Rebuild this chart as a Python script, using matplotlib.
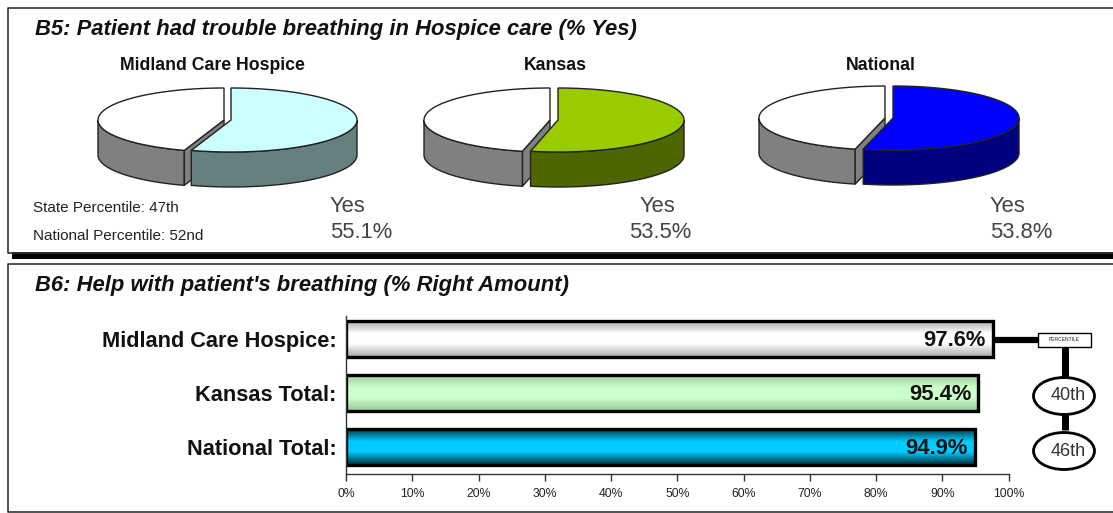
import numpy as np
import matplotlib
matplotlib.use("Agg")
import matplotlib.pyplot as plt
from matplotlib.patches import Polygon, Rectangle, Ellipse
from matplotlib.colors import LinearSegmentedColormap

plt.rcParams['font.family'] = ['Liberation Sans', 'DejaVu Sans']

# ---- data
pie_names = ["Midland Care Hospice", "Kansas", "National"]
pie_yes = [55.1, 53.5, 53.8]
pie_labels = ["55.1%", "53.5%", "53.8%"]
pie_top = ["#CCFFFF", "#99CC00", "#0000FF"]
pie_side = ["#668080", "#4D6600", "#000080"]
bar_names = ["Midland Care Hospice:", "Kansas Total:", "National Total:"]
bar_values = [97.6, 95.4, 94.9]
bar_edge_cols = ["#A8A8A8", "#98C898", "#00303F"]
bar_mid_cols = ["#FFFFFF", "#CCFFCC", "#00CCFF"]
percentiles = ["40th", "46th"]
x_ticks = list(range(0, 101, 10))

W, H = 1113, 513
fig = plt.figure(figsize=(W / 100, H / 100), dpi=100, facecolor="white")

# overlay in pixel coordinates for layout furniture
ov = fig.add_axes([0, 0, 1, 1], zorder=1)
ov.set_xlim(0, W); ov.set_ylim(H, 0); ov.axis("off")

# panel frames
ov.plot([W, 8, 8, W], [8, 8, 253, 253], color="#333333", lw=1.2)
ov.add_patch(Rectangle((12, 252), W - 12, 6.5, fc="black", ec="none"))
ov.plot([W, 8, 8, W], [264, 264, 511.5, 511.5], color="#333333", lw=1.2)

ov.text(35, 30, "B5: Patient had trouble breathing in Hospice care (% Yes)",
        fontsize=15.8, fontweight="bold", style="italic", va="center", color="#111111")
ov.text(35, 286, "B6: Help with patient's breathing (% Right Amount)",
        fontsize=15.8, fontweight="bold", style="italic", va="center", color="#111111")


def arc(cx, cy, rx, ry, a0, a1, n=120):
    """Points on an ellipse; angle measured clockwise from 12 o'clock, degrees."""
    t = np.radians(np.linspace(a0, a1, n))
    return np.column_stack([cx + rx * np.sin(t), cy - ry * np.cos(t)])


# pies: (yes centre x, no centre x, top centre y, name x, yes x, pct x)
pie_layout = [(231, 224, 120, 212, 330, 330),
              (558, 550, 120, 555, 640, 629),
              (893, 885, 118, 881, 990, 990)]
RX, RY, DEPTH = 126, 32, 35

for i, (cxy, cxn, cy, nx, yx, px) in enumerate(pie_layout):
    end = 360 * pie_yes[i] / 100
    lw = 1.0
    # No slice: side wall
    a = arc(cxn, cy, RX, RY, end, 270)
    down = a[::-1] + [0, DEPTH]
    ov.add_patch(Polygon(np.vstack([a, down]), fc="#808080", ec="#222222", lw=lw, zorder=2))
    # cut face of No slice
    tip = arc(cxn, cy, RX, RY, end, end, 1)[0]
    ov.add_patch(Polygon([(cxn, cy), tip, tip + [0, DEPTH], (cxn, cy + DEPTH)],
                         fc="#808080", ec="#222222", lw=lw, zorder=2))
    # No slice: top
    top = arc(cxn, cy, RX, RY, end, 360)
    ov.add_patch(Polygon(np.vstack([[cxn, cy], top]), fc="white", ec="#222222", lw=lw, zorder=3))
    # Yes slice: side wall (front-facing arc only)
    a = arc(cxy, cy, RX, RY, 90, end)
    down = a[::-1] + [0, DEPTH]
    ov.add_patch(Polygon(np.vstack([a, down]), fc=pie_side[i], ec="#222222", lw=lw, zorder=4))
    # Yes slice: top
    top = arc(cxy, cy, RX, RY, 0, end)
    ov.add_patch(Polygon(np.vstack([[cxy, cy], top]), fc=pie_top[i], ec="#222222", lw=lw, zorder=5))
    ov.text(nx, 66, pie_names[i], fontsize=12.7, fontweight="bold", ha="center", va="center",
            color="#111111")
    ov.text(yx, 206, "Yes", fontsize=15.8, va="center", color="#444444")
    ov.text(px, 233, pie_labels[i], fontsize=15.8, va="center", color="#444444")

ov.text(33, 208, "State Percentile: 47th", fontsize=11, va="center", color="#222222")
ov.text(33, 236, "National Percentile: 52nd", fontsize=11, va="center", color="#222222")

# bar chart
x0, x1, y0, y1 = 346, 1008.5, 316, 474
ax = fig.add_axes([x0 / W, 1 - y1 / H, (x1 - x0) / W, (y1 - y0) / H], zorder=2)
ax.patch.set_alpha(0)
BAR_H = 0.68
for i, v in enumerate(bar_values):
    cmap = LinearSegmentedColormap.from_list(
        "b", [(0, bar_edge_cols[i]), (0.36, bar_mid_cols[i]), (0.64, bar_mid_cols[i]), (1, bar_edge_cols[i])])
    ax.imshow(np.linspace(0, 1, 64)[:, None], cmap=cmap, aspect="auto", zorder=1,
              extent=[0, v, i + BAR_H / 2, i - BAR_H / 2])
    ax.barh(i, v, height=BAR_H, fc="none", ec="black", lw=2.4, zorder=2)
    ax.text(v - 1, i + 0.02, f"{v}%", ha="right", va="center", fontsize=15.8, fontweight="bold",
            color="#111111", zorder=3)
ax.set_xlim(0, 100)
ax.set_ylim(2.5, -0.426)
ax.set_yticks(range(3))
ax.set_yticklabels(bar_names, fontsize=15.7, fontweight="bold", color="#111111")
ax.tick_params(axis="y", length=0, pad=7)
ax.set_xticks(x_ticks)
ax.set_xticklabels([f"{t}%" for t in x_ticks], fontsize=8.8, color="#222222")
ax.tick_params(axis="x", length=5, width=1, color="#333333", pad=5)
for s in ("top", "right"):
    ax.spines[s].set_visible(False)
for s in ("left", "bottom"):
    ax.spines[s].set_color("#333333")
    ax.spines[s].set_linewidth(1)

# percentile callout
ov.set_zorder(3); ov.patch.set_alpha(0)
ov.plot([993, 1038], [339.5, 339.5], color="black", lw=4.5, solid_capstyle="butt", zorder=2)
ov.plot([1065, 1065], [347, 430], color="black", lw=5, solid_capstyle="butt", zorder=2)
ov.add_patch(Rectangle((1038, 332.5), 53, 14, fc="white", ec="black", lw=1, zorder=3))
ov.text(1064.5, 339.2, "PERCENTILE", fontsize=3.6, ha="center", va="center", color="#222222", zorder=4)
for yc, lab in zip((396, 451), percentiles):
    ov.add_patch(Ellipse((1064, yc), 61, 37, fc="white", ec="black", lw=2, zorder=3))
    ov.text(1068, yc, lab, fontsize=13, ha="center", va="center", color="#333333", zorder=4)

fig.savefig("out.png", dpi=100)
